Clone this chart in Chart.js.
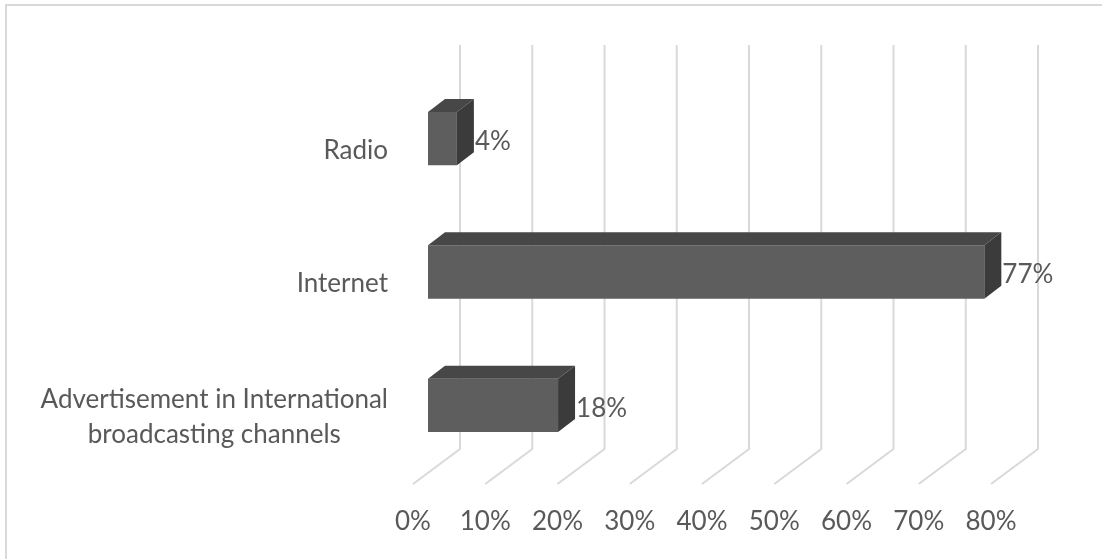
<!DOCTYPE html>
<html>
<head>
<meta charset="utf-8">
<title>Media channels</title>
<script src="https://cdn.jsdelivr.net/npm/chart.js@4.4.1/dist/chart.umd.min.js"></script>
<style>
  html, body { margin: 0; padding: 0; background: #fff; overflow: hidden; }
  #frame {
    position: absolute; left: 5px; top: 4px; width: 1200px; height: 700px;
    border-top: 2px solid #d9d9d9; border-left: 2px solid #d9d9d9;
  }
  #wrap { position: absolute; left: 0; top: 0; width: 1102px; height: 559px; }
</style>
</head>
<body>
<div id="frame"></div>
<div id="wrap"><canvas id="mediaChart"></canvas></div>
<script>
const categories = [
    ['Radio'],
    ['Internet'],
    ['Advertisement in International', 'broadcasting channels']
];
const shares = [4, 77, 18];
const xTicks = [0, 10, 20, 30, 40, 50, 60, 70, 80];

const FONT = '26px Lato, "Open Sans", sans-serif';
const TEXT = '#595959';
const GRID = '#d9d9d9';

// fake 3D: bar depth and the floor/back-wall offsets around it
const BAR_DX = 17, BAR_DY = 13;
const WALL_DX = 32, FLOOR_DX = -15;
const WALL_TOP = 45, WALL_BOTTOM = 449, FLOOR_FRONT = 484;

const depthPlugin = {
    id: 'depth',
    beforeDatasetsDraw(chart) {
        const ctx = chart.ctx;
        const x = chart.scales.x;
        ctx.save();
        ctx.strokeStyle = GRID;
        ctx.lineWidth = 2;
        xTicks.forEach(v => {
            const px = x.getPixelForValue(v);
            ctx.beginPath();
            ctx.moveTo(px + WALL_DX, WALL_TOP);
            ctx.lineTo(px + WALL_DX, WALL_BOTTOM);
            ctx.lineTo(px + FLOOR_DX, FLOOR_FRONT);
            ctx.stroke();
        });
        ctx.restore();
    },
    afterDatasetsDraw(chart) {
        const ctx = chart.ctx;
        const meta = chart.getDatasetMeta(0);
        ctx.save();
        meta.data.forEach((bar, i) => {
            const { x, y, base, height } = bar.getProps(['x', 'y', 'base', 'height'], true);
            const top = y - height / 2, bottom = y + height / 2;
            // top face
            ctx.fillStyle = '#474747';
            ctx.beginPath();
            ctx.moveTo(base, top);
            ctx.lineTo(base + BAR_DX, top - BAR_DY);
            ctx.lineTo(x + BAR_DX, top - BAR_DY);
            ctx.lineTo(x, top);
            ctx.closePath();
            ctx.fill();
            // side face
            ctx.fillStyle = '#3b3b3b';
            ctx.beginPath();
            ctx.moveTo(x, top);
            ctx.lineTo(x + BAR_DX, top - BAR_DY);
            ctx.lineTo(x + BAR_DX, bottom - BAR_DY);
            ctx.lineTo(x, bottom);
            ctx.closePath();
            ctx.fill();
            // value label
            ctx.fillStyle = TEXT;
            ctx.font = FONT;
            ctx.textAlign = 'left';
            ctx.textBaseline = 'middle';
            ctx.fillText(shares[i] + '%', x + BAR_DX + 1, y + 3);
        });
        ctx.restore();
    },
    afterDraw(chart) {
        // category labels: right edge fixed, multi-line blocks centred on themselves
        const ctx = chart.ctx;
        const yScale = chart.scales.y;
        const right = 388, lineH = 35;
        ctx.save();
        ctx.fillStyle = TEXT;
        ctx.font = FONT;
        ctx.textAlign = 'center';
        ctx.textBaseline = 'middle';
        categories.forEach((lines, i) => {
            const w = Math.max(...lines.map(l => ctx.measureText(l).width));
            const cx = right - w / 2;
            const cy = yScale.getPixelForValue(i) + 12;
            lines.forEach((l, k) => {
                ctx.fillText(l, cx, cy + (k - (lines.length - 1) / 2) * lineH);
            });
        });
        ctx.restore();
    }
};

new Chart(document.getElementById('mediaChart'), {
    type: 'bar',
    data: {
        labels: categories,
        datasets: [{
            data: shares,
            backgroundColor: '#5e5e5e',
            borderWidth: 0,
            categoryPercentage: 1,
            barPercentage: 0.4
        }]
    },
    options: {
        indexAxis: 'y',
        responsive: true,
        maintainAspectRatio: false,
        animation: false,
        events: [],
        layout: { padding: { top: 72, right: 96, left: 0, bottom: 0 } },
        plugins: { legend: { display: false }, tooltip: { enabled: false } },
        scales: {
            x: {
                min: 0,
                max: 80,
                afterBuildTicks: s => { s.ticks = xTicks.map(v => ({ value: v })); },
                afterFit: s => { s.height = 87; },
                grid: { display: false, drawTicks: false },
                border: { display: false },
                ticks: {
                    color: TEXT,
                    font: { family: 'Lato, "Open Sans", sans-serif', size: 26 },
                    padding: 34,
                    labelOffset: -15,
                    maxRotation: 0,
                    callback: v => v + '%'
                }
            },
            y: {
                afterFit: s => { s.width = 428; },
                grid: { display: false, drawTicks: false },
                border: { display: false },
                ticks: { display: false }
            }
        }
    },
    plugins: [depthPlugin]
});
</script>
</body>
</html>
